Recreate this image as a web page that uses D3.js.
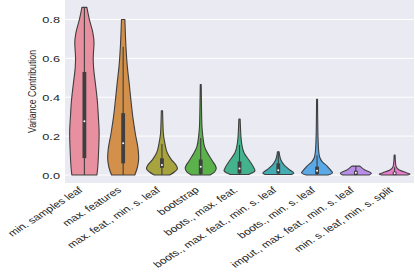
<!DOCTYPE html>
<html><head><meta charset="utf-8">
<script src="https://cdn.jsdelivr.net/npm/d3@7"></script>
<style>html,body{margin:0;padding:0;background:#fff}svg{display:block}</style>
</head><body><svg id="c" width="415" height="272"></svg>
<script>
const categories = ["min. samples leaf","max. features","max. feat., min. s. leaf","bootstrap","boots., max. feat.","boots., max. feat., min. s. leaf","boots., min. s. leaf","imput., max. feat., min. s. leaf","min. s. leaf, min. s. split"];
const colors = ["#e8909f","#d2904a","#a7a43f","#5cb24a","#44b28d","#42adb2","#5aa9e6","#b98ee8","#e87dcc"];
// density profiles: [value, relative density]
const profile1 = [[0.0,0.81],[0.04,0.86],[0.13,0.92],[0.215,0.95],[0.30,0.90],[0.385,0.83],[0.47,0.71],[0.555,0.59],[0.60,0.57],[0.68,0.62],[0.73,0.55],[0.80,0.32],[0.862,0.16]];
const profile2 = [[0.0,0.75],[0.04,0.92],[0.087,1.0],[0.128,0.97],[0.215,0.78],[0.30,0.62],[0.385,0.50],[0.47,0.39],[0.556,0.27],[0.66,0.18],[0.80,0.11]];
const profile3 = [[0.0,0.5],[0.017,0.82],[0.034,1.0],[0.051,0.91],[0.077,0.63],[0.113,0.35],[0.163,0.19],[0.215,0.09],[0.27,0.06],[0.33,0.04]];
const profile4 = [[0.0,0.6],[0.015,0.88],[0.035,1.0],[0.077,0.71],[0.11,0.46],[0.145,0.25],[0.197,0.14],[0.25,0.08],[0.35,0.05],[0.465,0.03]];
const profile5 = [[0.003,0.6],[0.01,0.8],[0.022,1.0],[0.043,0.89],[0.077,0.61],[0.113,0.3],[0.163,0.14],[0.19,0.1],[0.25,0.06],[0.288,0.04]];
const profile6 = [[0.003,0.85],[0.009,1.0],[0.026,0.75],[0.051,0.38],[0.077,0.17],[0.10,0.09],[0.12,0.05]];
const profile7 = [[0.0,0.7],[0.012,1.0],[0.026,0.86],[0.046,0.65],[0.068,0.34],[0.094,0.16],[0.128,0.1],[0.2,0.06],[0.3,0.04],[0.389,0.03]];
const profile8 = [[0.0,0.85],[0.009,1.0],[0.026,0.58],[0.043,0.3],[0.046,0.25]];
const profile9 = [[0.0,0.85],[0.005,1.0],[0.012,0.75],[0.026,0.3],[0.043,0.1],[0.07,0.05],[0.103,0.03]];
const profiles = [profile1,profile2,profile3,profile4,profile5,profile6,profile7,profile8,profile9];
const q1 = [0.087,0.06,0.037,0.005,0.008,0.008,0.005,0.0,0.0];
const medians = [0.277,0.163,0.051,0.043,0.034,0.025,0.022,0.012,0.009];
const q3 = [0.53,0.318,0.086,0.08,0.07,0.06,0.043,0.022,0.017];
const whiskerLow = [0,0,0,0,0,0,0,0,0];
const whiskerHigh = [0.862,0.66,0.16,0.19,0.155,0.12,0.1,0.046,0.04];
const yTicks = [0.0,0.2,0.4,0.6,0.8];
const yLabel = "Variance Contribution";

const FONT = "'Liberation Sans', Arial, sans-serif";
const SX = 1.3; // horizontal glyph stretch seen in the reference
const svg = d3.select("#c");
const L=65,R=414,T=0,B=183;
const x = d3.scaleBand().domain(categories).range([L,R]).padding(0);
const y = d3.scaleLinear().domain([-0.041,0.9]).range([B,T]);
const halfMax = x.bandwidth()*0.4;
const w = d3.scaleLinear().domain([0,1]).range([0,halfMax]);

svg.append("rect").attr("x",L).attr("y",T).attr("width",R-L).attr("height",B-T).attr("fill","#eaeaf2");
svg.append("g").selectAll("line").data(yTicks).join("line")
  .attr("x1",L).attr("x2",R).attr("y1",d=>y(d)).attr("y2",d=>y(d))
  .attr("stroke","#fff").attr("stroke-width",1);

const yAxis = d3.axisLeft(y).tickValues(yTicks).tickFormat(d3.format(".1f")).tickSize(0).tickPadding(0);
const ga = svg.append("g").attr("transform",`translate(${L},0)`).call(yAxis);
ga.select(".domain").remove();
ga.selectAll(".tick text").attr("x",null).attr("dy","0.35em")
  .attr("transform",`translate(-5,0) scale(${SX},1)`)
  .attr("font-family",FONT).attr("font-size",9.8).attr("fill","#262626");

svg.append("text").attr("transform",`translate(36,${(T+B)/2}) scale(${SX},1) rotate(-90)`)
  .attr("text-anchor","middle").attr("font-family",FONT)
  .attr("font-size",8.7).attr("fill","#262626").text(yLabel);

const area = d3.area().curve(d3.curveMonotoneY);
categories.forEach((c,i)=>{
  const cx = x(c)+x.bandwidth()/2;
  area.y(d=>y(d[0])).x0(d=>cx-w(d[1])).x1(d=>cx+w(d[1]));
  svg.append("path").attr("d",area(profiles[i])).attr("fill",colors[i])
    .attr("stroke","#3f3f3f").attr("stroke-width",1.1).attr("stroke-linejoin","round");
  svg.append("line").attr("x1",cx).attr("x2",cx).attr("y1",y(whiskerLow[i])).attr("y2",y(whiskerHigh[i]))
    .attr("stroke","#3f3f3f").attr("stroke-width",1.1);
  svg.append("rect").attr("x",cx-1.9).attr("width",3.8).attr("y",y(q3[i])).attr("height",Math.max(1,y(q1[i])-y(q3[i])))
    .attr("fill","#3f3f3f");
  svg.append("circle").attr("cx",cx).attr("cy",y(medians[i])).attr("r",1.0).attr("fill","#fff");
});

const xAxis = d3.axisBottom(x).tickSize(0).tickPadding(0);
const gx = svg.append("g").attr("transform",`translate(0,${B})`).call(xAxis);
gx.select(".domain").remove();
gx.selectAll(".tick text").attr("font-family",FONT).attr("font-size",9.2).attr("fill","#262626")
  .attr("text-anchor","end").attr("dy",null).attr("y",0)
  .attr("transform",`translate(-1,8) scale(${SX},1) rotate(-40)`);
</script></body></html>
